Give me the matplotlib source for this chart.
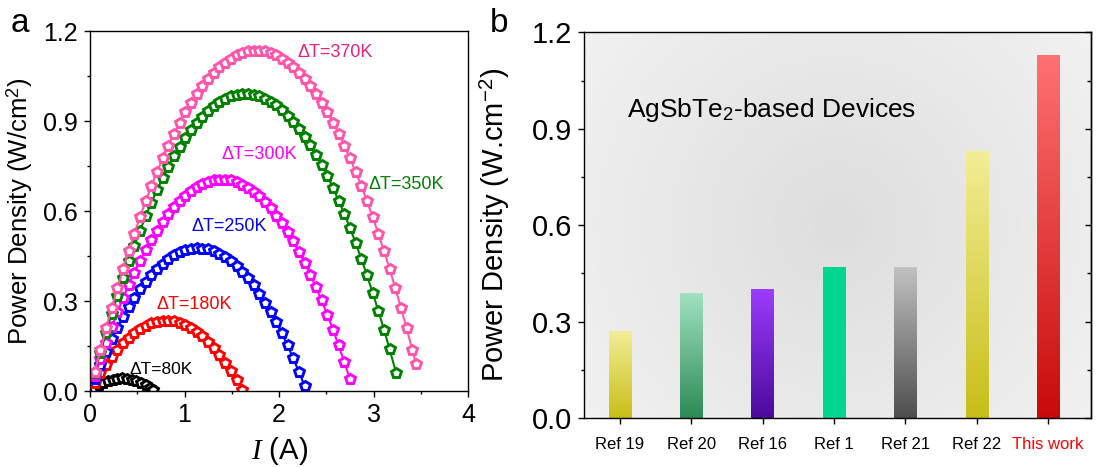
import numpy as np
import matplotlib
matplotlib.use("Agg")
import matplotlib.pyplot as plt
from matplotlib.colors import to_rgb
from matplotlib.ticker import MultipleLocator

plt.rcParams['font.family'] = ['Liberation Sans', 'DejaVu Sans']
plt.rcParams['mathtext.fontset'] = 'custom'
plt.rcParams['mathtext.rm'] = 'Liberation Sans'
plt.rcParams['mathtext.it'] = 'Liberation Serif:italic'
plt.rcParams['mathtext.bf'] = 'Liberation Sans:bold'

# ---------------- panel a: output power density vs current ----------------
# current sweep (A) shared by the measurements
I_SWEEP = [0.05, 0.11, 0.17, 0.23, 0.29, 0.35, 0.41, 0.47, 0.53, 0.59,
           0.65, 0.71, 0.77, 0.83, 0.89, 0.95, 1.01, 1.07, 1.13, 1.19,
           1.25, 1.31, 1.37, 1.43, 1.49, 1.55, 1.61, 1.67, 1.73, 1.79,
           1.85, 1.91, 1.97, 2.03, 2.09, 2.15, 2.21, 2.27, 2.33, 2.39,
           2.45, 2.51, 2.57, 2.63, 2.69, 2.75, 2.81, 2.87, 2.93, 2.99,
           3.05, 3.11, 3.17, 3.23, 3.29, 3.35, 3.41]

I_80 = [0.04, 0.09, 0.14, 0.19, 0.24, 0.29, 0.34, 0.39, 0.44, 0.49,
        0.54, 0.59, 0.64, 0.67]
P_80 = [0.009, 0.019, 0.027, 0.034, 0.038, 0.041, 0.042, 0.041, 0.038, 0.034,
        0.027, 0.019, 0.009, 0.002]

I_180 = I_SWEEP[:27]
P_180 = [0.028, 0.060, 0.088, 0.115, 0.138, 0.159, 0.178, 0.194, 0.207, 0.218,
         0.226, 0.231, 0.234, 0.235, 0.232, 0.227, 0.220, 0.210, 0.197, 0.182,
         0.164, 0.144, 0.121, 0.095, 0.067, 0.036, 0.003]

I_250 = I_SWEEP[:38]
P_250 = [0.041, 0.087, 0.131, 0.172, 0.211, 0.246, 0.280, 0.311, 0.339, 0.364,
         0.387, 0.407, 0.425, 0.440, 0.452, 0.462, 0.469, 0.474, 0.476, 0.475,
         0.472, 0.466, 0.458, 0.446, 0.433, 0.416, 0.397, 0.376, 0.352, 0.325,
         0.295, 0.263, 0.229, 0.192, 0.152, 0.109, 0.064, 0.017]

I_300 = I_SWEEP[:46]
P_300 = [0.050, 0.107, 0.161, 0.213, 0.263, 0.309, 0.354, 0.395, 0.434, 0.470,
         0.504, 0.535, 0.564, 0.589, 0.613, 0.633, 0.651, 0.667, 0.680, 0.690,
         0.697, 0.702, 0.705, 0.705, 0.702, 0.696, 0.688, 0.678, 0.664, 0.649,
         0.630, 0.609, 0.585, 0.559, 0.530, 0.499, 0.464, 0.428, 0.388, 0.346,
         0.302, 0.255, 0.205, 0.152, 0.097, 0.040]

I_350 = I_SWEEP[:53] + [3.24]
P_350 = [0.059, 0.128, 0.194, 0.258, 0.318, 0.377, 0.432, 0.485, 0.535, 0.583,
         0.628, 0.670, 0.710, 0.747, 0.782, 0.814, 0.843, 0.869, 0.893, 0.915,
         0.933, 0.949, 0.963, 0.973, 0.982, 0.987, 0.990, 0.990, 0.988, 0.983,
         0.975, 0.965, 0.952, 0.936, 0.918, 0.897, 0.874, 0.847, 0.819, 0.787,
         0.753, 0.717, 0.677, 0.635, 0.591, 0.544, 0.494, 0.441, 0.386, 0.328,
         0.268, 0.205, 0.139, 0.059]

I_370 = I_SWEEP[:57] + [3.45]
P_370 = [0.064, 0.137, 0.209, 0.277, 0.343, 0.407, 0.467, 0.525, 0.581, 0.633,
         0.684, 0.731, 0.776, 0.818, 0.858, 0.895, 0.929, 0.961, 0.990, 1.016,
         1.040, 1.061, 1.079, 1.095, 1.108, 1.119, 1.127, 1.132, 1.135, 1.135,
         1.132, 1.127, 1.119, 1.108, 1.095, 1.079, 1.061, 1.040, 1.016, 0.990,
         0.961, 0.929, 0.895, 0.858, 0.818, 0.776, 0.731, 0.684, 0.633, 0.581,
         0.525, 0.467, 0.407, 0.343, 0.277, 0.209, 0.137, 0.089]

delta_T = ["80K", "180K", "250K", "300K", "350K", "370K"]
curves_I = [I_80, I_180, I_250, I_300, I_350, I_370]
curves_P = [P_80, P_180, P_250, P_300, P_350, P_370]
curve_colors = ['#000000', '#FF0000', '#0000FF', '#FF00FF', '#008000', '#FF55AA']
label_colors = ['#000000', '#FF0000', '#0000FF', '#FF00FF', '#008000', '#E8207E']
label_pos = [(0.42, 0.073), (0.70, 0.29), (1.07, 0.548), (1.39, 0.787),
             (2.95, 0.69), (2.20, 1.127)]
label_sizes = [12.5, 13, 13, 13, 13, 13]

# ---------------- panel b: comparison of AgSbTe2-based devices ----------------
refs = ["Ref 19", "Ref 20", "Ref 16", "Ref 1", "Ref 21", "Ref 22", "This work"]
ref_density = [0.27, 0.39, 0.40, 0.47, 0.47, 0.83, 1.13]
bar_top = ['#F2EE96', '#A2E2C2', '#9C3CFF', '#00D690', '#C2C2C2', '#F2EE96', '#FF7272']
bar_bottom = ['#C8BE18', '#2C8A56', '#4A0A9C', '#00D690', '#4E4E4E', '#C8BE18', '#C80A0A']

fig = plt.figure(figsize=(10.99, 4.67), dpi=100)
axa = fig.add_axes([0.0819, 0.1627, 0.344, 0.7709])
axb = fig.add_axes([0.5314, 0.1049, 0.4613, 0.8259])

for I, P, c in zip(curves_I, curves_P, curve_colors):
    axa.plot(I, P, '-', color=c, lw=1.5, marker='p', ms=7.2,
             mfc='white', mec=c, mew=2.1)
for txt, (x, y), c, fs in zip(delta_T, label_pos, label_colors, label_sizes):
    axa.text(x, y, "\u0394T=" + txt, color=c, fontsize=fs, ha='left', va='center')

axa.set_xlim(0, 4)
axa.set_ylim(0, 1.2)
axa.xaxis.set_major_locator(MultipleLocator(1))
axa.xaxis.set_minor_locator(MultipleLocator(0.5))
axa.yaxis.set_major_locator(MultipleLocator(0.3))
axa.yaxis.set_minor_locator(MultipleLocator(0.15))
axa.yaxis.set_major_formatter(plt.FormatStrFormatter('%.1f'))
axa.tick_params(which='both', direction='out', top=False, right=False,
                labelsize=18, width=1.0, pad=4)
axa.tick_params(which='major', length=4.5)
axa.tick_params(which='minor', length=2.5)
for s in axa.spines.values():
    s.set_linewidth(1.0)
axa.set_xlabel(r"$I$ (A)", fontsize=21, labelpad=6)
axa.set_ylabel(r"Power Density (W/cm$^2$)", fontsize=18.5, labelpad=6)

# radial grey backdrop for panel b
bb = axb.get_window_extent()
ny, nx = 400, 520
yy, xx = np.mgrid[0:ny, 0:nx]
dx = (xx / (nx - 1) - 0.5) * bb.width
dy = (yy / (ny - 1) - 0.5) * bb.height
t = np.clip(np.hypot(dx, dy) / 330.0, 0, 1)
t = 0.6 * np.floor(t * 10) / 10 + 0.4 * t
g = 0.872 + 0.080 * t
axb.imshow(np.dstack([g, g, g]), extent=(0, 1, 0, 1), transform=axb.transAxes,
           aspect='auto', zorder=0, interpolation='bilinear')

xpos = np.arange(1, len(refs) + 1)
bars = axb.bar(xpos, ref_density, width=0.31, zorder=2, edgecolor='none')
f = np.linspace(0, 1, 256)[:, None]
for patch, ct, cb in zip(bars, bar_top, bar_bottom):
    x0, w, h = patch.get_x(), patch.get_width(), patch.get_height()
    grad = np.array(to_rgb(ct)) * (1 - f) + np.array(to_rgb(cb)) * f
    im = axb.imshow(grad[:, None, :], extent=(x0, x0 + w, 0, h), origin='upper',
                    aspect='auto', zorder=2, interpolation='bilinear')
    im.set_clip_path(patch)
    patch.set_facecolor('none')

axb.text(1.10, 0.935, r"AgSbTe$_2$-based Devices", fontsize=19,
         ha='left', va='baseline', zorder=3)

axb.set_xlim(0.5, 7.6)
axb.set_ylim(0, 1.2)
axb.set_xticks(xpos)
axb.set_xticklabels(refs)
for lbl in axb.get_xticklabels():
    if lbl.get_text() == "This work":
        lbl.set_color('#FF0000')
axb.yaxis.set_major_locator(MultipleLocator(0.3))
axb.yaxis.set_minor_locator(MultipleLocator(0.15))
axb.yaxis.set_major_formatter(plt.FormatStrFormatter('%.1f'))
axb.tick_params(axis='x', which='both', direction='out', length=4.5, width=1.0,
                labelsize=12, pad=9)
axb.tick_params(axis='y', which='both', direction='out', left=True, right=False,
                labelsize=21, width=1.0, pad=4)
axb.tick_params(axis='y', which='major', length=4.5)
axb.tick_params(axis='y', which='minor', length=2.5)
for s in axb.spines.values():
    s.set_linewidth(1.0)
    s.set_zorder(4)
axb.set_ylabel(r"Power Density (W.cm$^{-2}$)", fontsize=21, labelpad=14)

# inward ticks on the right frame of panel b
axr = axb.secondary_yaxis('right')
axr.yaxis.set_major_locator(MultipleLocator(0.3))
axr.yaxis.set_minor_locator(MultipleLocator(0.15))
axr.tick_params(which='both', direction='in', labelright=False, width=1.0)
axr.tick_params(which='major', length=4.5)
axr.tick_params(which='minor', length=3)
axr.spines['right'].set_linewidth(1.0)

fig.text(0.0177, 0.949, "a", fontsize=24, ha='center', va='center')
fig.text(0.454, 0.949, "b", fontsize=24, ha='center', va='center')

fig.savefig("out.png", dpi=100)
